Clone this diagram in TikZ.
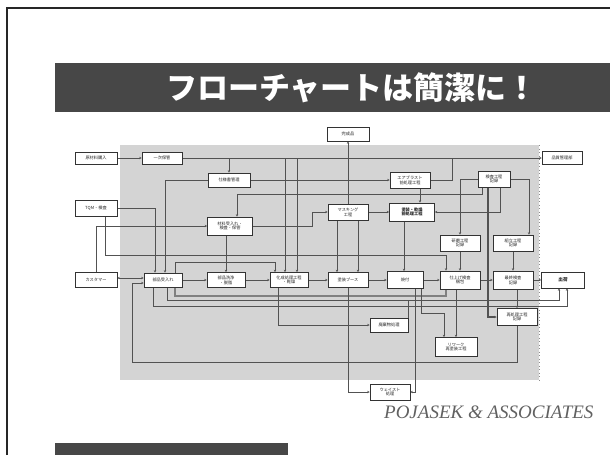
\documentclass[tikz,border=0pt]{standalone}
\usepackage{fontspec}
\setmainfont{Liberation Serif}
\newfontfamily\jp{Noto Sans CJK JP}
\usetikzlibrary{arrows.meta}
\pgfdeclarelayer{bg}
\pgfdeclarelayer{wires}
\pgfsetlayers{bg,wires,main}
\tikzset{
  bx/.style={draw=black!80, fill=white, line width=0.5pt, inner sep=0.5pt,
    align=center, text=black!85, font=\jp\fontsize{4.2}{4.8}\selectfont},
  ln/.style={draw=black!68, line width=0.55pt},
  tip/.tip={Stealth[length=2.6pt,width=2.4pt]},
  arr/.style={ln, -tip},
  rarr/.style={ln, tip-},
  barr/.style={ln, tip-tip},
}
\begin{document}
\begin{tikzpicture}[x=1pt,y=-1pt]
\useasboundingbox (0,0) rectangle (610,455);

% slide frame and title bar
\draw[line width=1.2pt, black!85] (7,455) -- (7,8) -- (610,8);
\fill[black!72] (55,63) rectangle (610,112);
\node[font=\jp\bfseries\fontsize{31}{31}\selectfont, text=white] (title) at (352,88) {フローチャートは簡潔に！};

% process boxes
\node[bx, minimum width=42, minimum height=12] (A) at (96,158) {原材料購入};
\node[bx, minimum width=40, minimum height=12] (B) at (162,158) {一次保管};
\node[bx, minimum width=42, minimum height=14] (C) at (229,180) {仕様書管理};
\node[bx, minimum width=42, minimum height=16] (D) at (96,208) {TQM・検査};
\node[bx, minimum width=45, minimum height=18] (E) at (230,226) {材料受入れ・\\検査・保管};
\node[bx, minimum width=42, minimum height=14] (F) at (348,134) {完成品};
\node[bx, minimum width=40, minimum height=16] (G) at (410,180) {エアブラスト\\前処理工程};
\node[bx, minimum width=40, minimum height=16] (H) at (348,212) {マスキング\\工程};
\node[bx, minimum width=45, minimum height=18, font=\jp\bfseries\fontsize{4.2}{4.8}\selectfont] (I) at (412,212) {塗装・乾燥\\前処理工程};
\node[bx, minimum width=40, minimum height=13] (J) at (562,158) {品質管理部};
\node[bx, minimum width=32, minimum height=16] (K) at (494,179) {検査工程\\記録};
\node[bx, minimum width=40, minimum height=16] (L) at (460,243) {研磨工程\\記録};
\node[bx, minimum width=40, minimum height=16] (M) at (513,243) {組立工程\\記録};
\node[bx, minimum width=42, minimum height=15] (N) at (96,280) {カスタマー};
\node[bx, minimum width=38, minimum height=14] (O) at (163,280) {部品受入れ};
\node[bx, minimum width=38, minimum height=15] (P) at (226,280) {部品洗浄\\・脱脂};
\node[bx, minimum width=38, minimum height=15] (Q) at (289,280) {化成処理工程\\・乾燥};
\node[bx, minimum width=40, minimum height=15] (R) at (348,280) {塗装ブース};
\node[bx, minimum width=36, minimum height=17] (S) at (405,280) {焼付};
\node[bx, minimum width=40, minimum height=18] (T) at (460,280) {仕上げ検査\\梱包};
\node[bx, minimum width=40, minimum height=18] (U) at (513,280) {最終検査\\記録};
\node[bx, minimum width=43, minimum height=16, font=\jp\bfseries\fontsize{4.6}{5}\selectfont] (V) at (563,280) {出荷};
\node[bx, minimum width=40, minimum height=17] (W) at (517,317) {再処理工程\\記録};
\node[bx, minimum width=42, minimum height=19] (X) at (456,347) {リワーク\\再塗装工程};
\node[bx, minimum width=38, minimum height=14] (Y) at (389,325) {廃棄物処理};
\node[bx, minimum width=40, minimum height=16] (Z) at (390,392) {ウェイスト\\処理};

% bend points on shared lines
\coordinate (q1) at (285,158);
\coordinate (q2) at (297,158);
\coordinate (jj) at (452,158);
\coordinate (lb) at (132,362);
\coordinate (lp) at (0,300);

\begin{pgfonlayer}{bg}
  \fill[white] (0,0) rectangle (610,455);
  \fill[black!17] (120,145) rectangle (539,380);
  \draw[black!45, line width=0.6pt, dash pattern=on 1pt off 2.5pt] (539,145) -- (539,380);
\end{pgfonlayer}

\begin{pgfonlayer}{wires}
  % upper part
  \draw[arr] (A.east) -- (B.west);
  \draw[arr] (B.east) -- (J.west);
  \draw[arr] (C.north |- B.east) -- (C.north);
  \draw[arr] (C.east) -- (G.west);
  \draw[arr] (C.west) -| ([xshift=2pt]O.north);
  \draw[arr] (D.east) -| ([xshift=-8pt]O.north);
  \draw[arr] ([xshift=9pt]D.south) -- ++(0,39) -| ([xshift=-14pt]T.north);
  \draw[arr] (N.north) |- (E.west);
  \draw[arr] ([xshift=-4pt]E.south) -- (P.north);
  \draw[rarr] ([xshift=7pt]E.north) -- ++(0,-22) -| ([xshift=-12pt]K.south);
  \draw[arr] (E.east) -- ++(60,0) |- (H.west);
  \draw[arr] (H.north) -- (F.south);
  \draw[arr] (H.east) -- (I.west);
  \draw[arr] ([xshift=10pt]G.south) -- ([xshift=8pt]I.north);
  \draw[ln] (G.east) -| (jj);
  \draw[arr] (q1) -- (q1 |- Q.north);
  \draw[arr] (q2) -- (q2 |- Q.north);
  \draw[arr] ([xshift=-11pt]H.south) -- ([xshift=-11pt]R.north);
  \draw[arr] ([xshift=10pt]H.south) -- ([xshift=10pt]R.north);
  \draw[arr] ([xshift=-8pt]I.south) -- ([xshift=-1pt]S.north);
  \draw[arr] ([xshift=6pt]K.south) |- (I.east);
  \draw[arr] (K.west) -| (L.north);
  \draw[arr] (K.east) -| ([xshift=16pt]M.north);
  \draw[arr, line width=1.1pt] ([xshift=-6pt]K.south) |- (W.west);
  \draw[arr] (L.south) -- (T.north);
  \draw[arr] (M.south) -- (U.north);
  \draw[arr] ([xshift=12pt]O.north) -- ++(0,-10) -| ([xshift=-14pt]Q.north);

  % main row
  \draw[barr] ([yshift=2pt]N.east) -- ([yshift=2pt]O.west);
  \draw[arr] (O.east) -- (P.west);
  \draw[arr] (P.east) -- (Q.west);
  \draw[arr] (Q.east) -- (R.west);
  \draw[arr] (R.east) -- (S.west);
  \draw[arr] (S.east) -- (T.west);
  \draw[arr] (T.east) -- (U.west);
  \draw[arr] (U.east) -- (V.west);
  \draw[arr] ([xshift=4pt]U.south) -- (W.north);

  % lower part
  \draw[arr] (W.south) |- (lb) |- ([yshift=-3pt]O.west);
  \draw[arr] ([xshift=-10pt]O.south) -- ++(0,19) -| ([xshift=4pt]V.south);
  \draw[arr] ([xshift=4pt]O.south) -- ++(0,13) -| ([xshift=-4pt]V.south);
  \draw[draw=black!50, line width=1.6pt] ([xshift=12pt]O.south) -- ++(0,9) -| ([xshift=-14pt]T.south);
  \draw[arr] (R.south) |- (Z.west);
  \draw[arr] ([xshift=10pt]S.south) |- (Z.east);
  \draw[arr] ([xshift=-11pt]Q.south) |- (Y.west);
  \draw[ln] (Y.north east) -- (Y.north east |- lp);
  \draw[arr] (T.south -| X.north) -- (X.north);
  \draw[rarr] ([xshift=-12pt]X.north) -- ++(0,-24) -| ([xshift=16pt]S.south);
\end{pgfonlayer}

% footer
\node[font=\itshape\fontsize{19}{19}\selectfont, text=black!62, anchor=east] (brand) at (597,412) {POJASEK \& ASSOCIATES};
\fill[black!72] (55,443) rectangle (288,455);
\end{tikzpicture}
\end{document}
